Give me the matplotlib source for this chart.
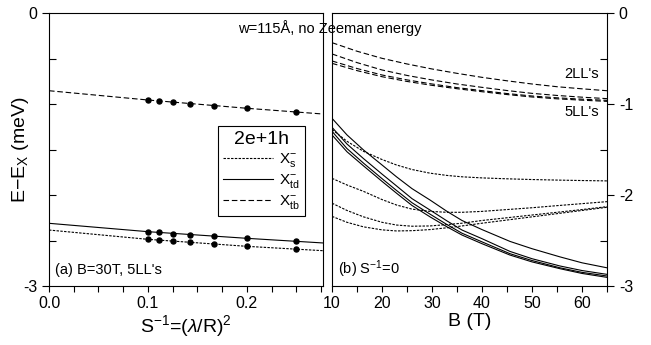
import matplotlib
matplotlib.use("Agg")
from matplotlib import pyplot as plt
from matplotlib.ticker import FixedLocator, MultipleLocator, FixedFormatter

plt.rcParams.update({
    "font.family": ["Liberation Sans", "DejaVu Sans"],
    "mathtext.fontset": "custom",
    "mathtext.rm": "Liberation Sans",
    "mathtext.it": "Liberation Sans:italic",
    "mathtext.sf": "Liberation Sans",
    "axes.linewidth": 0.8,
})

# panel (a): B=30T, 5LL's, energy vs S^-1
s_inv = [1/10, 1/9, 1/8, 1/7, 1/6, 1/5, 1/4]
tb_pts = [-0.956, -0.967, -0.981, -1.000, -1.022, -1.047, -1.091]
td_pts = [-2.403, -2.410, -2.425, -2.436, -2.454, -2.476, -2.509]
s_pts = [-2.487, -2.491, -2.505, -2.520, -2.542, -2.564, -2.597]
fit_x = [0.0, 0.1, 0.2, 0.277]
tb_fit = [-0.854, -0.956, -1.047, -1.110]
td_fit = [-2.311, -2.403, -2.476, -2.527]
s_fit = [-2.385, -2.487, -2.564, -2.612]

# panel (b): S^-1 = 0, energy vs B for 2..5 LL's
B_tb = [10, 15, 20, 25, 30, 35, 40, 45, 50, 55, 60, 65]
tb_curves = [
    [-0.326, -0.420, -0.498, -0.560, -0.615, -0.663, -0.707, -0.745, -0.780, -0.810, -0.833, -0.854],
    [-0.450, -0.545, -0.626, -0.686, -0.736, -0.780, -0.817, -0.852, -0.883, -0.906, -0.925, -0.941],
    [-0.527, -0.610, -0.681, -0.735, -0.780, -0.820, -0.853, -0.885, -0.912, -0.932, -0.947, -0.960],
    [-0.553, -0.633, -0.700, -0.752, -0.795, -0.832, -0.865, -0.896, -0.923, -0.943, -0.958, -0.971],
]
B_td = [10, 13, 16.3, 20, 22.9, 26, 29.6, 33, 36, 40, 45.6, 50, 55.6, 60, 65]
td_curves = [
    [-1.157, -1.340, -1.505, -1.670, -1.800, -1.930, -2.055, -2.180, -2.280, -2.380, -2.510, -2.590, -2.680, -2.745, -2.800],
    [-1.256, -1.440, -1.600, -1.770, -1.900, -2.040, -2.165, -2.285, -2.385, -2.480, -2.620, -2.700, -2.780, -2.830, -2.872],
    [-1.300, -1.490, -1.650, -1.820, -1.950, -2.085, -2.210, -2.325, -2.420, -2.515, -2.645, -2.720, -2.800, -2.850, -2.890],
    [-1.340, -1.525, -1.680, -1.850, -1.980, -2.115, -2.240, -2.350, -2.440, -2.535, -2.660, -2.735, -2.810, -2.862, -2.905],
]
B_s = [10, 13, 16.3, 20, 22.9, 26, 29.6, 33, 36, 40, 45, 50, 55, 60, 65]
s_curves = [
    [-1.280, -1.410, -1.520, -1.610, -1.670, -1.720, -1.760, -1.785, -1.800, -1.812, -1.822, -1.830, -1.836, -1.841, -1.845],
    [-1.817, -1.890, -1.960, -2.050, -2.110, -2.155, -2.180, -2.190, -2.190, -2.180, -2.160, -2.140, -2.117, -2.095, -2.073],
    [-2.090, -2.170, -2.240, -2.300, -2.330, -2.343, -2.340, -2.325, -2.310, -2.280, -2.250, -2.220, -2.190, -2.160, -2.128],
    [-2.235, -2.300, -2.350, -2.383, -2.395, -2.392, -2.380, -2.360, -2.340, -2.310, -2.275, -2.240, -2.205, -2.170, -2.135],
]

s_style = dict(color="black", lw=0.8, dashes=(2.2, 1.2))
td_style = dict(color="black", lw=0.8, linestyle="-")
tb_style = dict(color="black", lw=0.8, dashes=(5, 2.5))

fig = plt.figure(figsize=(6.51, 3.45), dpi=100)
ax1 = fig.add_axes([0.0753, 0.171, 0.4209, 0.7913])
ax2 = fig.add_axes([0.510, 0.171, 0.4224, 0.7913])

# left panel
ax1.plot(fit_x, s_fit, label=r"X$_\mathregular{s}^\mathregular{-}$", **s_style)
ax1.plot(fit_x, td_fit, label=r"X$_\mathregular{td}^\mathregular{-}$", **td_style)
ax1.plot(fit_x, tb_fit, label=r"X$_\mathregular{tb}^\mathregular{-}$", **tb_style)
for pts in (tb_pts, td_pts, s_pts):
    ax1.plot(s_inv, pts, "o", color="black", markersize=3.6)
ax1.set_xlim(0, 0.277)
ax1.set_ylim(-3, 0)
ax1.xaxis.set_major_locator(FixedLocator([0.0, 0.1, 0.2]))
ax1.xaxis.set_major_formatter(FixedFormatter(["0.0", "0.1", "0.2"]))
ax1.xaxis.set_minor_locator(MultipleLocator(0.025))
ax1.yaxis.set_major_locator(FixedLocator([0, -3]))
ax1.yaxis.set_major_formatter(FixedFormatter(["0", "-3"]))
ax1.yaxis.set_minor_locator(FixedLocator([-0.5, -1, -1.5, -2, -2.5]))
ax1.tick_params(axis="x", which="both", direction="out", length=4, width=0.8, labelsize=11.5)
ax1.tick_params(axis="y", which="major", direction="out", length=5, width=0.8, labelsize=11.5)
ax1.tick_params(axis="y", which="minor", direction="in", length=5, width=0.8)
ax1.set_xlabel(r"S$^\mathregular{-1}$=($\lambda$/R)$^\mathregular{2}$", fontsize=14, labelpad=1)
ax1.set_ylabel(r"E$-$E$_\mathregular{X}$ (meV)", fontsize=14, labelpad=-6)
ax1.text(0.02, 0.045, "(a) B=30T, 5LL's", transform=ax1.transAxes, fontsize=10.5)
leg = ax1.legend(loc="upper left", bbox_to_anchor=(0.617, 0.585), title="2e+1h",
                 fontsize=11, title_fontsize=14, handlelength=3.3, handletextpad=0.4,
                 labelspacing=0.2, borderpad=0.3, fancybox=False, framealpha=1,
                 edgecolor="black", borderaxespad=0)
leg.get_frame().set_linewidth(0.8)

# right panel
for c in tb_curves:
    ax2.plot(B_tb, c, **tb_style)
for c in td_curves:
    ax2.plot(B_td, c, **td_style)
for c in s_curves:
    ax2.plot(B_s, c, **s_style)
ax2.set_xlim(10, 65)
ax2.set_ylim(-3, 0)
ax2.xaxis.set_major_locator(MultipleLocator(10))
ax2.xaxis.set_minor_locator(MultipleLocator(5))
ax2.yaxis.set_major_locator(FixedLocator([0, -1, -2, -3]))
ax2.yaxis.set_major_formatter(FixedFormatter(["0", "-1", "-2", "-3"]))
ax2.yaxis.set_minor_locator(FixedLocator([-0.5, -1.5, -2.5]))
ax2.yaxis.tick_right()
ax2.tick_params(axis="x", which="both", direction="out", length=4, width=0.8, labelsize=11.5)
ax2.tick_params(axis="y", which="major", direction="out", length=5, width=0.8, labelsize=11.5)
ax2.tick_params(axis="y", which="minor", direction="in", length=5, width=0.8)
ax2.set_xlabel("B (T)", fontsize=14, labelpad=1)
ax2.text(0.02, 0.045, r"(b) S$^\mathregular{-1}$=0", transform=ax2.transAxes, fontsize=10.5)
ax2.text(0.97, 0.777, "2LL's", transform=ax2.transAxes, fontsize=10.5, ha="right", va="center")
ax2.text(0.97, 0.637, "5LL's", transform=ax2.transAxes, fontsize=10.5, ha="right", va="center")

fig.text(0.506, 0.905, u"w=115\u00c5, no Zeeman energy", fontsize=10.5, ha="center")

fig.savefig("out.png", dpi=100)
